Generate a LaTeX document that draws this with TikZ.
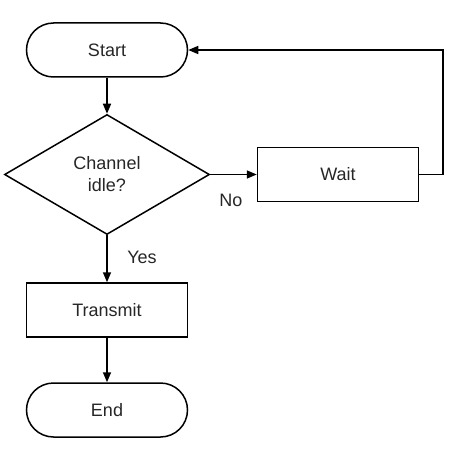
\documentclass[tikz,border=0pt]{standalone}
\usepackage{fontspec}
\setmainfont{Liberation Sans}
\usetikzlibrary{shapes.geometric,arrows.meta}
\begin{document}
\begin{tikzpicture}[x=1pt,y=-1pt,
  base/.style={draw=black,line width=1.5pt,font=\fontsize{18}{22}\selectfont,text=black!85,align=center,inner sep=0pt},
  term/.style={base,rectangle,rounded corners=27pt,minimum width=161pt,minimum height=54pt},
  procbox/.style={base,rectangle,minimum width=161pt,minimum height=54pt},
  decide/.style={base,diamond,minimum width=205pt,minimum height=120pt},
  conn/.style={line width=1.5pt,-{Triangle[length=10pt,width=8pt]}},
  lbl/.style={font=\fontsize{18}{20}\selectfont,text=black!85}]
\useasboundingbox (0,0) rectangle (450,473);
\node[term] (start) at (107,50) {Start};
\node[decide] (dec) at (107,174.5) {Channel\\idle?};
\node[procbox] (wait) at (338,174.5) {Wait};
\node[procbox] (tx) at (107,310) {Transmit};
\node[term] (end) at (107,410) {End};
\coordinate (c1) at (443,174.5);
\coordinate (c2) at (443,50);
\draw[conn] (start) -- (dec);
\draw[conn] (dec.east) -- (wait.west);
\draw[conn] (dec) -- (tx);
\draw[conn] (tx) -- (end);
\draw[conn] (wait.east) -- (c1) -- (c2) -- (start.east);
\node[lbl] (no) at (231,200) {No};
\node[lbl] (yes) at (142,257) {Yes};
\end{tikzpicture}
\end{document}
